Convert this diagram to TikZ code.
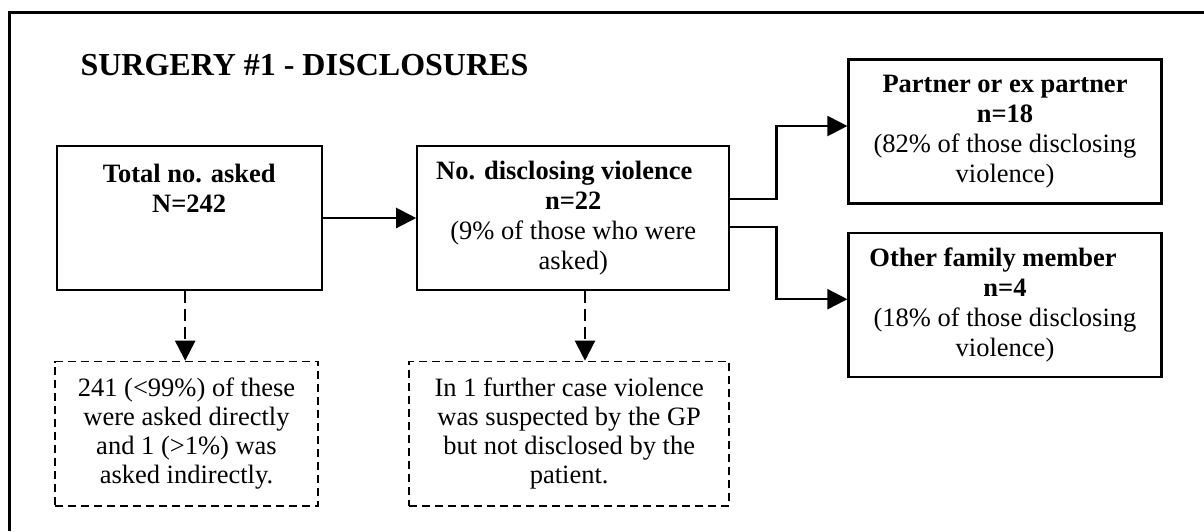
\documentclass[tikz,border=0pt]{standalone}
\usepackage{fontspec}
\setmainfont{Liberation Serif}
\usetikzlibrary{arrows.meta}

\begin{document}
\begin{tikzpicture}[x=1pt, y=-1pt]
      \useasboundingbox (0,0) rectangle (1204,531);
      \draw[line width=3.3pt] (9.5,531) |- (1204,12.7);

      \node[anchor=base west, font=\fontsize{32}{36}\selectfont\bfseries] (t) at (77,75) {SURGERY \#1 - DISCLOSURES};

      \begin{scope}[every node/.style={rectangle, draw, line width=2.2pt, align=center, inner sep=0pt, font=\fontsize{26.5}{30}\selectfont}]
        \node[minimum width=265pt, minimum height=144pt] (0) at (189.2,218) {\textbf{Total no. asked}\\ \textbf{N=242}\\ \mbox{}\\ \mbox{}};
        \node[minimum width=312pt, minimum height=144pt] (1) at (573.3,218) {\textbf{No. disclosing violence}\hspace*{18pt}\\ \textbf{n=22}\\ (9\% of those who were\\ asked)};
        \node[minimum width=313pt, minimum height=144pt] (2) at (1005,131.5) {\textbf{Partner or ex partner}\\ \textbf{n=18}\\ (82\% of those disclosing\\ violence)};
        \node[minimum width=313pt, minimum height=144pt] (3) at (1005,305.2) {\textbf{Other family member}\hspace*{24pt}\\ \textbf{n=4}\\ (18\% of those disclosing\\ violence)};
      \end{scope}

      \begin{scope}[every node/.style={rectangle, draw, line width=1.7pt, dash pattern=on 8pt off 5pt, align=center, inner sep=0pt, font=\fontsize{26.5}{29}\selectfont}]
        \node[minimum width=263pt, minimum height=144.5pt] (4) at (186.5,433.8) {241 (<99\%) of these\\ were asked directly\\ and 1 (>1\%) was\\ asked indirectly.};
        \node[minimum width=320pt, minimum height=144.5pt] (5) at (569.2,433.8) {In 1 further case violence\\ was suspected by the GP\\ but not disclosed by the\\ patient.};
      \end{scope}

      \begin{scope}[->, >={Triangle[length=20pt, width=20pt]}, line width=2.2pt]
        \draw (0) -- (1);
        \draw ([yshift=18.7pt]1.east) -| ([xshift=-71pt, yshift=5.5pt]2.west) -- ([yshift=5.5pt]2.west);
        \draw ([yshift=-9.3pt]1.east) -| ([xshift=-71pt, yshift=6pt]3.west) -- ([yshift=6pt]3.west);
        \draw[dash pattern=on 12pt off 6pt] ([xshift=-4pt]0.south) -- ([xshift=-4pt]0.south |- 4.north);
        \draw[dash pattern=on 12pt off 6pt] ([xshift=11.7pt]1.south) -- ([xshift=11.7pt]1.south |- 5.north);
      \end{scope}
   \end{tikzpicture}
\end{document}
